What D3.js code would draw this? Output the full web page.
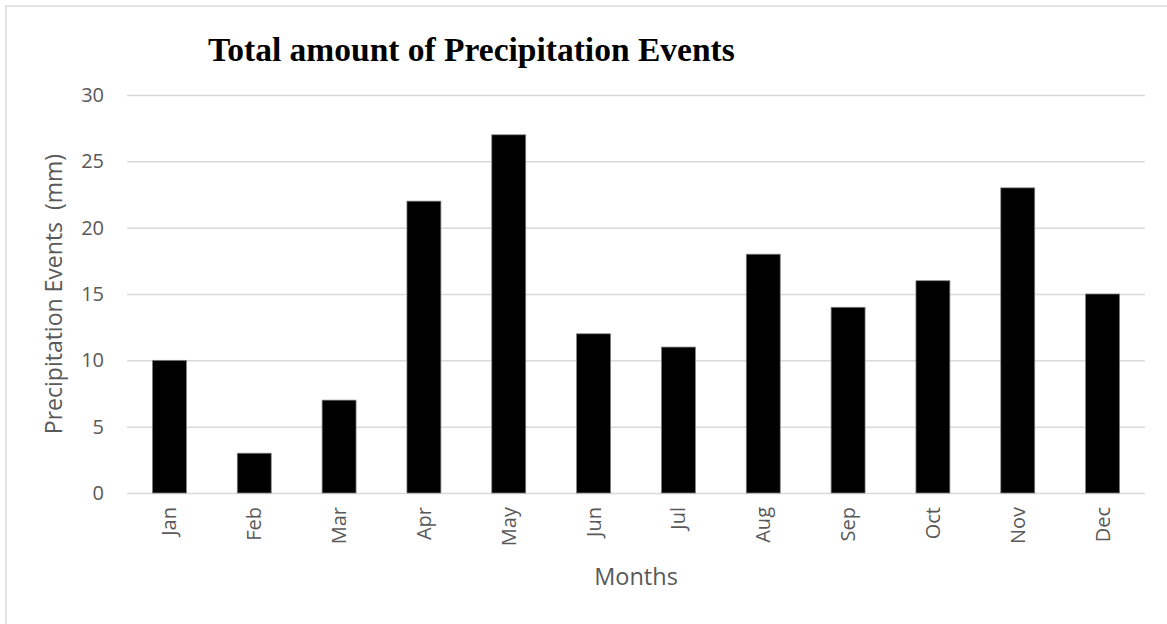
<!DOCTYPE html>
<html>
<head>
<meta charset="utf-8">
<script src="https://cdn.jsdelivr.net/npm/d3@7"></script>
<style>
  html, body { margin: 0; padding: 0; background: #fff; }
  svg { display: block; }
</style>
</head>
<body>
<svg id="chart" width="1167" height="624"></svg>
<script>
// Monthly count of precipitation events
const months = ["Jan", "Feb", "Mar", "Apr", "May", "Jun", "Jul", "Aug", "Sep", "Oct", "Nov", "Dec"];
const events = [10, 3, 7, 22, 27, 12, 11, 18, 14, 16, 23, 15];
const yTicks = [0, 5, 10, 15, 20, 25, 30];

const svg = d3.select("#chart");
const W = 1167, H = 624;
const plot = { left: 127, right: 1145, top: 95, bottom: 493 };

// chart frame
svg.append("rect")
  .attr("x", 6).attr("y", 6)
  .attr("width", W + 20).attr("height", H + 20)
  .attr("fill", "#fff")
  .attr("stroke", "#d9d9d9")
  .attr("stroke-width", 1.5);

const x = d3.scaleBand()
  .domain(months)
  .range([plot.left, plot.right])
  .paddingInner(0.6)
  .paddingOuter(0.3);

const y = d3.scaleLinear()
  .domain([0, 30])
  .range([plot.bottom, plot.top]);

// horizontal gridlines + y tick labels
const yAxis = d3.axisLeft(y)
  .tickValues(yTicks)
  .tickSize(-(plot.right - plot.left))
  .tickPadding(23);

const gy = svg.append("g")
  .attr("transform", `translate(${plot.left},0)`)
  .call(yAxis);
gy.select(".domain").remove();
gy.selectAll(".tick line")
  .attr("stroke", "#d9d9d9")
  .attr("stroke-width", 1.5);
gy.selectAll(".tick text")
  .attr("fill", "#595959")
  .style("font-family", "'Open Sans', sans-serif")
  .style("font-size", "20px");

// bars
svg.append("g")
  .selectAll("rect")
  .data(months.map((m, i) => ({ m, v: events[i] })))
  .join("rect")
  .attr("x", d => x(d.m))
  .attr("y", d => y(d.v))
  .attr("width", x.bandwidth())
  .attr("height", d => y(0) - y(d.v))
  .attr("fill", "#000")
  .attr("stroke", "#7f7f7f")
  .attr("stroke-width", 0.75);

// x axis: category labels rotated vertically
const xAxis = d3.axisBottom(x).tickSize(0).tickPadding(0);
const gx = svg.append("g")
  .attr("transform", `translate(0,${plot.bottom})`)
  .call(xAxis);
gx.select(".domain").remove();
gx.selectAll(".tick text")
  .attr("fill", "#595959")
  .style("font-family", "'Open Sans', sans-serif")
  .style("font-size", "20px")
  .attr("transform", "rotate(-90)")
  .attr("text-anchor", "end")
  .attr("x", -14)
  .attr("y", 0)
  .attr("dy", "0.35em");

// title
svg.append("text")
  .attr("x", 208)
  .attr("y", 61)
  .attr("fill", "#000")
  .style("font-family", "'Liberation Serif', 'Times New Roman', serif")
  .style("font-weight", "bold")
  .style("font-size", "33.5px")
  .text("Total amount of Precipitation Events");

// axis titles
svg.append("text")
  .attr("x", (plot.left + plot.right) / 2)
  .attr("y", 585)
  .attr("text-anchor", "middle")
  .attr("fill", "#595959")
  .style("font-family", "'Open Sans', sans-serif")
  .style("font-size", "23.5px")
  .text("Months");

svg.append("text")
  .attr("transform", `translate(62,${(plot.top + plot.bottom) / 2}) rotate(-90)`)
  .attr("text-anchor", "middle")
  .attr("fill", "#595959")
  .style("font-family", "'Open Sans', sans-serif")
  .style("font-size", "23px")
  .style("white-space", "pre")
  .text("Precipitation Events  (mm)");
</script>
</body>
</html>
